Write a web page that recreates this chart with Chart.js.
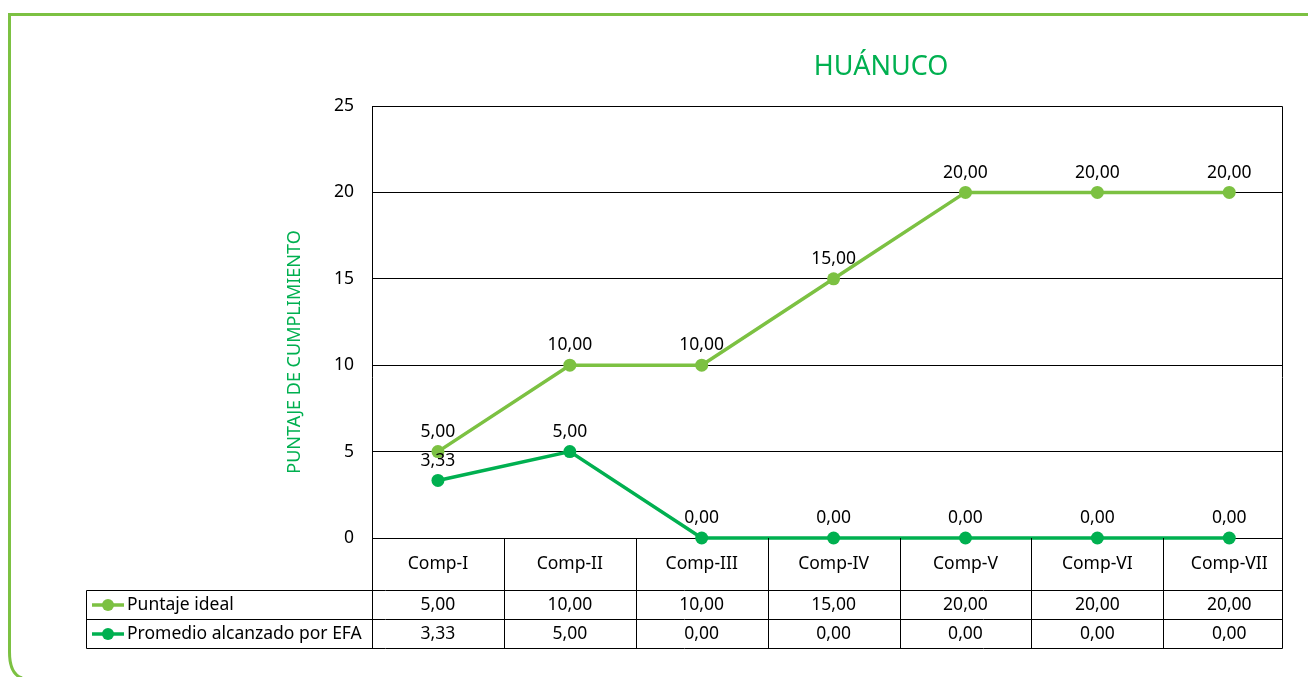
<!DOCTYPE html>
<html>
<head>
<meta charset="utf-8">
<title>HUÁNUCO</title>
<script src="https://cdn.jsdelivr.net/npm/chart.js@4/dist/chart.umd.min.js"></script>
<style>
  html, body { margin: 0; padding: 0; background: #ffffff; }
  #wrap { width: 1308px; height: 677px; position: relative; }
</style>
</head>
<body>
<div id="wrap"><canvas id="grafico" width="1308" height="677"></canvas></div>
<script>
// ── DATOS ────────────────────────────────────────────
var componentes = ['Comp-I', 'Comp-II', 'Comp-III', 'Comp-IV', 'Comp-V', 'Comp-VI', 'Comp-VII'];
var puntajeIdeal = [5, 10, 10, 15, 20, 20, 20];
var promedioEfa  = [3.33, 5, 0, 0, 0, 0, 0];
var ticksY       = [0, 5, 10, 15, 20, 25];

var VERDE_CLARO = '#7cc142';
var VERDE       = '#00b050';
var FUENTE      = "'Noto Sans', 'DejaVu Sans', sans-serif";

function fmt(n) { return n.toFixed(2).replace('.', ','); }
function puntos(serie) {
  return serie.map(function (v, i) { return { x: i, y: v }; });
}

// ── PLUGIN: marco, título, etiquetas y tabla de datos ─
var extras = {
  id: 'extras',
  afterDraw: function (chart) {
    var ctx = chart.ctx;
    var area = chart.chartArea;
    var x = chart.scales.x;
    var filaH = 52, fila1 = area.bottom + filaH, fila2 = fila1 + 29, fila3 = fila2 + 29;
    var leyIzq = 86;

    ctx.save();

    // marco verde redondeado
    ctx.strokeStyle = VERDE_CLARO;
    ctx.lineWidth = 3;
    ctx.beginPath();
    ctx.moveTo(1310, 14.5);
    ctx.lineTo(9.5, 14.5);
    ctx.lineTo(9.5, 652);
    ctx.quadraticCurveTo(9.5, 674, 22, 678);
    ctx.stroke();

    // título
    ctx.fillStyle = VERDE;
    ctx.font = '27px ' + FUENTE;
    ctx.textAlign = 'center';
    ctx.textBaseline = 'middle';
    ctx.fillText('HUÁNUCO', 881, 67);

    // título eje Y
    ctx.save();
    ctx.translate(295, 352);
    ctx.rotate(-Math.PI / 2);
    ctx.font = '18px ' + FUENTE;
    ctx.fillText('PUNTAJE DE CUMPLIMIENTO', 0, 0);
    ctx.restore();

    // borde del área y tabla
    ctx.strokeStyle = '#000000';
    ctx.lineWidth = 1;
    ctx.beginPath();
    ctx.moveTo(area.left + 0.5, area.top + 0.5);
    ctx.lineTo(area.right + 0.5, area.top + 0.5);
    ctx.lineTo(area.right + 0.5, fila3 + 0.5);
    ctx.moveTo(area.left + 0.5, area.top);
    ctx.lineTo(area.left + 0.5, fila3 + 0.5);
    // filas
    ctx.moveTo(leyIzq + 0.5, fila1 + 0.5); ctx.lineTo(area.right + 0.5, fila1 + 0.5);
    ctx.moveTo(leyIzq + 0.5, fila2 + 0.5); ctx.lineTo(area.right + 0.5, fila2 + 0.5);
    ctx.moveTo(leyIzq + 0.5, fila3 + 0.5); ctx.lineTo(area.right + 0.5, fila3 + 0.5);
    ctx.moveTo(leyIzq + 0.5, fila1 + 0.5); ctx.lineTo(leyIzq + 0.5, fila3 + 0.5);
    // columnas entre componentes
    for (var i = 1; i < componentes.length; i++) {
      var cx = Math.round(x.getPixelForValue(i - 0.5)) + 0.5;
      ctx.moveTo(cx, area.bottom); ctx.lineTo(cx, fila3 + 0.5);
    }
    ctx.stroke();

    ctx.fillStyle = '#000000';
    ctx.font = '17.5px ' + FUENTE;
    ctx.textAlign = 'center';
    componentes.forEach(function (c, i) {
      var px = x.getPixelForValue(i);
      ctx.fillText(c, px, area.bottom + filaH / 2);
      ctx.fillText(fmt(puntajeIdeal[i]), px, fila1 + 15);
      ctx.fillText(fmt(promedioEfa[i]), px, fila2 + 15);
    });

    // leyenda dentro de la tabla
    [[VERDE_CLARO, 'Puntaje ideal', fila1],
     [VERDE, 'Promedio alcanzado por EFA', fila2]].forEach(function (r) {
      var ym = r[2] + 15;
      ctx.strokeStyle = r[0];
      ctx.fillStyle = r[0];
      ctx.lineWidth = 3.5;
      ctx.beginPath(); ctx.moveTo(92, ym); ctx.lineTo(124, ym); ctx.stroke();
      ctx.beginPath(); ctx.arc(108, ym, 6, 0, Math.PI * 2); ctx.fill();
      ctx.fillStyle = '#000000';
      ctx.textAlign = 'left';
      ctx.fillText(r[1], 127, ym);
    });

    // etiquetas de valor sobre cada punto
    ctx.textAlign = 'center';
    ctx.textBaseline = 'bottom';
    chart.data.datasets.forEach(function (ds, d) {
      chart.getDatasetMeta(d).data.forEach(function (pt, i) {
        ctx.fillText(fmt(ds.data[i].y), pt.x, pt.y - 11);
      });
    });

    ctx.restore();
  }
};

new Chart(document.getElementById('grafico').getContext('2d'), {
  type: 'line',
  data: {
    datasets: [
      {
        label: 'Puntaje ideal',
        data: puntos(puntajeIdeal),
        borderColor: VERDE_CLARO,
        backgroundColor: VERDE_CLARO,
        borderWidth: 3.5,
        pointRadius: 6.5,
        pointBorderWidth: 0,
        tension: 0
      },
      {
        label: 'Promedio alcanzado por EFA',
        data: puntos(promedioEfa),
        borderColor: VERDE,
        backgroundColor: VERDE,
        borderWidth: 3.5,
        pointRadius: 6.5,
        pointBorderWidth: 0,
        tension: 0
      }
    ]
  },
  options: {
    responsive: false,
    animation: false,
    devicePixelRatio: 1,
    clip: false,
    layout: { padding: { left: 0, right: 26, top: 106, bottom: 139 } },
    plugins: {
      legend: { display: false },
      title: { display: false },
      tooltip: { enabled: false }
    },
    scales: {
      // la última columna de la tabla queda más estrecha
      x: { type: 'linear', display: false, min: -0.5, max: 6.4 },
      y: {
        min: 0,
        max: 25,
        afterFit: function (scale) { scale.width = 372; },
        afterBuildTicks: function (scale) {
          scale.ticks = ticksY.map(function (v) { return { value: v }; });
        },
        border: { display: false },
        grid: { color: '#000000', lineWidth: 1, drawTicks: false },
        ticks: {
          color: '#000000',
          padding: 18,
          font: { family: FUENTE, size: 17.5 }
        }
      }
    }
  },
  plugins: [extras]
});
</script>
</body>
</html>
